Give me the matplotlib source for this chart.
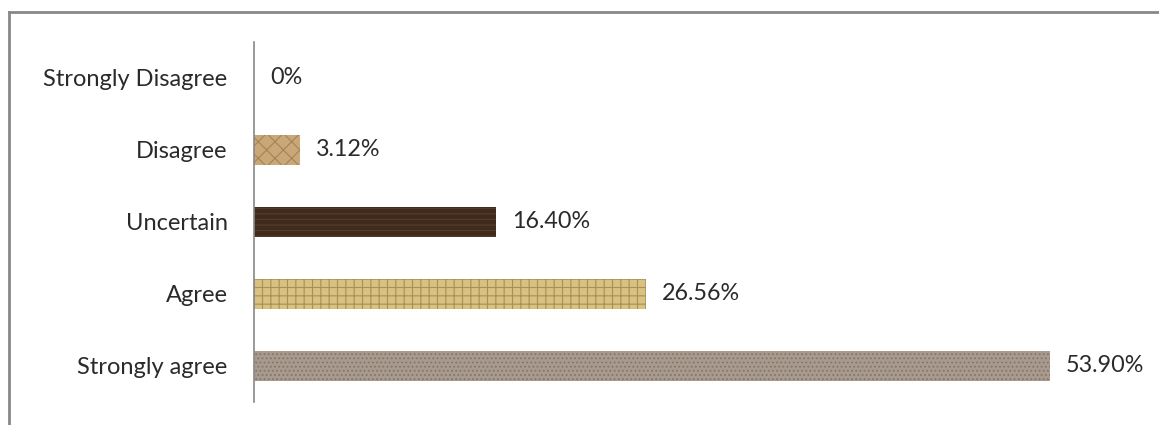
import matplotlib.pyplot as plt
from matplotlib.lines import Line2D

# Data
categories = ['Strongly agree', 'Agree', 'Uncertain', 'Disagree', 'Strongly Disagree']
values = [53.90, 26.56, 16.40, 3.12, 0]
labels = ['53.90%', '26.56%', '16.40%', '3.12%', '0%']

# Bar looks (solid base + hatch to hint at the texture fills)
colors = ['#a89a8e', '#d8c182', '#3f2a1b', '#c9a776', '#ffffff']
hatch_colors = ['#857669', '#a88f52', '#553e2c', '#a3845a', '#ffffff']
hatches = ['....', '++', '---', 'xx', '']

plt.rcParams['font.family'] = ['Lato', 'DejaVu Sans']
plt.rcParams['hatch.linewidth'] = 0.8

fig = plt.figure(figsize=(11.59, 4.25), dpi=100)
W, H = 1159, 425
ax = fig.add_axes([254 / W, 1 - 402 / H, (1140 - 254) / W, (402 - 42) / H])

ypos = range(len(categories))
bars = ax.barh(ypos, values, height=0.41, color=colors, linewidth=0)
for b, hc, h in zip(bars, hatch_colors, hatches):
    b.set_hatch(h)
    b.set_edgecolor(hc)
    b.set_linewidth(0)

for y, v, lab in zip(ypos, values, labels):
    ax.annotate(lab, (v, y), xytext=(16, 0), textcoords='offset pixels',
                va='center', ha='left', fontsize=16.8, color='#2a2a2a')

ax.set_xlim(0, 60)
ax.set_ylim(-0.5, len(categories) - 0.5)
ax.set_yticks(list(ypos))
ax.set_yticklabels(categories, fontsize=17, color='#2a2a2a')
ax.tick_params(axis='y', length=0, pad=19)
ax.set_xticks([])
for s in ['top', 'right', 'bottom']:
    ax.spines[s].set_visible(False)
ax.spines['left'].set_color('#888888')
ax.spines['left'].set_linewidth(1.2)

# outer frame (top and left edges visible in the original)
fig.add_artist(Line2D([9 / W, 1], [1 - 12 / H, 1 - 12 / H], color='#888888', lw=2,
                      transform=fig.transFigure))
fig.add_artist(Line2D([9 / W, 9 / W], [0, 1 - 12 / H], color='#888888', lw=2,
                      transform=fig.transFigure))

fig.savefig('out.png', dpi=100, facecolor='white')
